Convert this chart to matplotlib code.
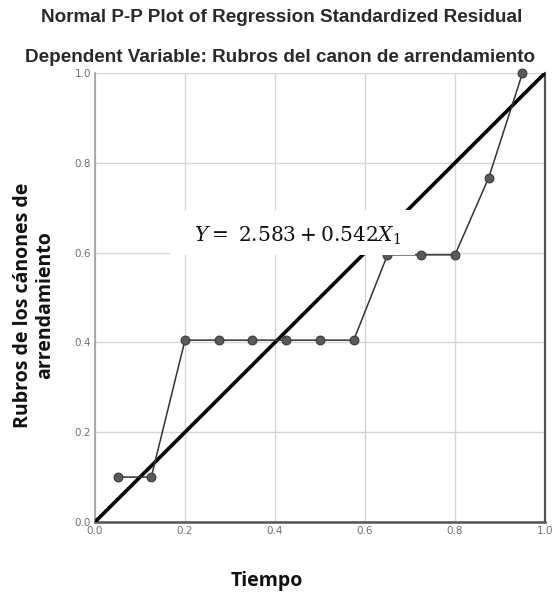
import matplotlib
matplotlib.use("Agg")
import matplotlib.pyplot as plt
import matplotlib.patches as mpatches

# Observed cumulative probability (x) vs expected (y)
obs_prob = [0.05, 0.125, 0.20, 0.275, 0.35, 0.425, 0.50, 0.575, 0.65, 0.725, 0.80, 0.875, 0.95]
exp_prob = [0.10, 0.10, 0.405, 0.405, 0.405, 0.405, 0.405, 0.405, 0.595, 0.595, 0.595, 0.767, 1.0]
ticks = [0.0, 0.2, 0.4, 0.6, 0.8, 1.0]
tick_labels = ["0.0", "0.2", "0.4", "0.6", "0.8", "1.0"]

title1 = "Normal P-P Plot of Regression Standardized Residual"
title2 = "Dependent Variable: Rubros del canon de arrendamiento"
equation = r"$Y =\ 2.583 + 0.542X_1$"

plt.rcParams["mathtext.fontset"] = "dejavuserif"

fig = plt.figure(figsize=(5.53, 5.95), dpi=100)
W, H = 553, 595
left, right, bottom, top = 95, 545, 522, 73
ax = fig.add_axes([left / W, 1 - bottom / H, (right - left) / W, (bottom - top) / H])

ax.set_xlim(0, 1)
ax.set_ylim(0, 1)
ax.set_xticks(ticks)
ax.set_yticks(ticks)
ax.set_xticklabels(tick_labels)
ax.set_yticklabels(tick_labels)
ax.tick_params(length=0, labelsize=7.5, colors="#707070", pad=3)
ax.grid(True, color="#d4d4d4", lw=1.0)
ax.set_axisbelow(True)

ax.spines["top"].set_visible(False)
ax.spines["left"].set_color("#a0a0a0")
ax.spines["left"].set_linewidth(1.2)
ax.spines["bottom"].set_color("#555555")
ax.spines["bottom"].set_linewidth(1.8)
ax.spines["right"].set_color("#555555")
ax.spines["right"].set_linewidth(1.6)

# Reference diagonal
ax.plot([0, 1], [0, 1], color="black", lw=2.6, zorder=3, solid_capstyle="butt")

# Observed points joined in order
ax.plot(obs_prob, exp_prob, color="#333333", lw=1.1, zorder=4)
ax.scatter(obs_prob, exp_prob, s=40, color="#5a5a5a", edgecolor="#3a3a3a",
           linewidth=0.8, zorder=5, clip_on=False)

# Regression equation on a white panel
bx0, bx1 = (170 - left) / (right - left), (415 - left) / (right - left)
by0, by1 = (bottom - 255) / (bottom - top), (bottom - 210) / (bottom - top)
ax.add_patch(mpatches.Rectangle((bx0, by0), bx1 - bx0, by1 - by0, transform=ax.transAxes,
                                facecolor="white", edgecolor="none", zorder=6))
ax.text((298 - left) / (right - left), (bottom - 236) / (bottom - top), equation,
        transform=ax.transAxes, ha="center", va="center", fontsize=14.5,
        color="#111111", zorder=7)

fig.text(282 / W, 1 - 18 / H, title1, ha="center", va="center", fontsize=13.6,
         fontweight="bold", family="Liberation Sans", color="#2a2a2a")
fig.text(280 / W, 1 - 57 / H, title2, ha="center", va="center", fontsize=13.6,
         fontweight="bold", family="Liberation Sans", color="#2a2a2a")
fig.text(267 / W, 1 - 581 / H, "Tiempo", ha="center", va="center",
         fontsize=14, fontweight="bold", family="Open Sans", color="#111111")
fig.text(34 / W, 1 - 305 / H, "Rubros de los cánones de\narrendamiento", ha="center",
         va="center", rotation=90, fontsize=14, fontweight="bold", family="Open Sans",
         color="#111111", linespacing=1.1)

fig.savefig("out.png", dpi=100)
